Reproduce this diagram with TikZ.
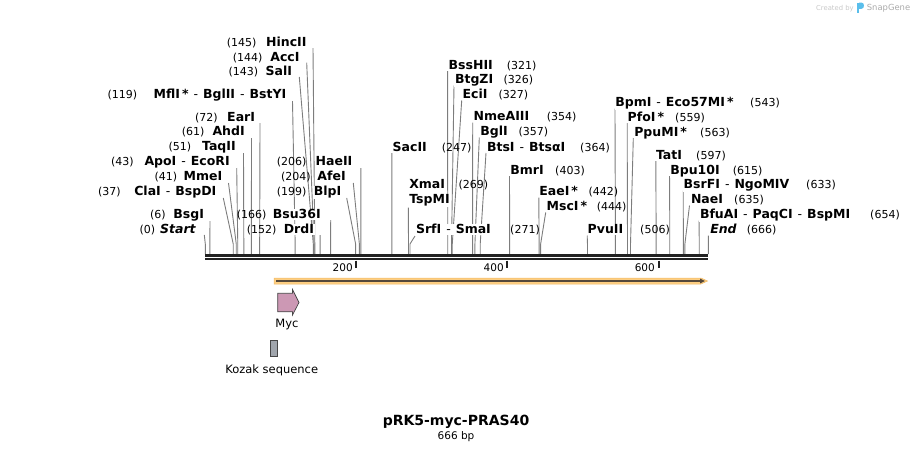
\documentclass[tikz,border=0pt]{standalone}
\usepackage{fontspec}
\setmainfont{DejaVu Sans}
\usetikzlibrary{arrows.meta}
\pgfdeclarelayer{bg}
\pgfsetlayers{bg,main}
\definecolor{cutgray}{RGB}{125,125,125}
\definecolor{seqblack}{RGB}{34,34,34}
\definecolor{orfband}{RGB}{253,206,130}
\definecolor{orfedge}{RGB}{240,185,100}
\definecolor{orfline}{RGB}{85,72,58}
\definecolor{mycpink}{RGB}{204,152,180}
\definecolor{kozakgray}{RGB}{160,165,172}
\definecolor{featborder}{RGB}{70,70,70}
\definecolor{sgblue}{RGB}{90,190,235}
\definecolor{sggray}{RGB}{170,170,170}
\definecolor{sglight}{RGB}{200,200,200}
\newcommand\dsh{\hspace{5pt}{\mdseries -}\hspace{5pt}}
% left-type: (num) Name, line at right end
\newcommand\Lsite[9]{%
  \pgfmathsetmacro\bxx{205.3+#7*0.75526}%
  \begin{pgfonlayer}{bg}
    \coordinate (t#1) at (#8,#9);
    \coordinate (b#1) at (\bxx,254);
    \draw[cut] (t#1) -- (\bxx,244) -- (b#1);
  \end{pgfonlayer}
  \node[numlbl, anchor=base west] (k#1) at (#3,#2+4.3) {(#5)};
  \node[namelbl, anchor=base east] (n#1) at (#4,#2+4.3) {#6};
}
% right-type: Name (num), line at left start
\newcommand\Rsite[9]{%
  \pgfmathsetmacro\bxx{205.3+#7*0.75526}%
  \begin{pgfonlayer}{bg}
    \coordinate (t#1) at (#8,#9);
    \coordinate (b#1) at (\bxx,254);
    \draw[cut] (t#1) -- (\bxx,244) -- (b#1);
  \end{pgfonlayer}
  \node[namelbl, anchor=base west] (n#1) at (#3,#2+4.3) {#6};
  \node[numlbl, anchor=base east] (k#1) at (#4,#2+4.3) {(#5)};
}
\tikzset{
  namelbl/.style={font=\fontsize{12.5}{14}\selectfont\bfseries, inner sep=0.8pt, fill=white},
  numlbl/.style={font=\fontsize{11}{13}\selectfont, inner sep=0pt},
  cut/.style={draw=cutgray, line width=0.9pt},
  rulerlbl/.style={font=\fontsize{10.5}{12}\selectfont, inner sep=0pt, anchor=base east},
  featborder/.style={draw=featborder, line width=0.7pt},
}
\begin{document}
\begin{tikzpicture}[x=1pt,y=-1pt]
\useasboundingbox (0,0) rectangle (914,451);

% left cluster
\Lsite{HincII}{42}{226.7}{307.5}{145}{HincII}{145}{313}{48}
\Lsite{AccI}{56.7}{232.7}{300.5}{144}{AccI}{144}{306.7}{62.7}
\Lsite{SalI}{71}{228.3}{293}{143}{SalI}{143}{299.3}{77}
\Lsite{MflI}{94.5}{107.3}{287.3}{119}{MflI\,*\dsh BglII\dsh BstYI}{119}{292.5}{101}
\Lsite{EarI}{117}{195}{256}{72}{EarI}{72}{260}{123}
\Lsite{AhdI}{131.5}{181.7}{245.7}{61}{AhdI}{61}{251.5}{138}
\Lsite{TaqII}{146}{168.3}{236.7}{51}{TaqII}{51}{243.5}{153}
\Lsite{ApoI}{161.5}{111}{230.7}{43}{ApoI\dsh EcoRI}{43}{236.7}{168}
\Lsite{MmeI}{176.5}{154.3}{223.3}{41}{MmeI}{41}{228.5}{183}
\Lsite{ClaI}{191.5}{98}{217.3}{37}{ClaI\dsh BspDI}{37}{223.3}{198}
\Lsite{BsgI}{214.5}{150}{205}{6}{BsgI}{6}{210}{221}
\Lsite{Start}{229.5}{139.3}{196.7}{0}{\itshape Start}{0}{204.3}{235}
\Lsite{Bsuxxxvi}{214.5}{236.7}{321.7}{166}{Bsu36I}{166}{330.7}{220}
\Lsite{DrdI}{229.5}{246.7}{315}{152}{DrdI}{152}{320.1}{235}
\Lsite{HaeII}{161.5}{276.7}{353.3}{206}{HaeII}{206}{360.9}{168}
\Lsite{AfeI}{176.5}{281}{346.7}{204}{AfeI}{204}{353.3}{183}
\Lsite{BlpI}{191.5}{276.7}{342.3}{199}{BlpI}{199}{346.7}{198}

% middle and right clusters
\Rsite{SacII}{147}{391.7}{471.7}{247}{SacII}{247}{391.9}{153}
\Rsite{BssHII}{65}{447.7}{536.7}{321}{BssHII}{321}{447.6}{71}
\Rsite{BtgZI}{79.5}{454}{533.3}{326}{BtgZI}{326}{454}{85.5}
\Rsite{EciI}{94.5}{461.7}{528.3}{327}{EciI}{327}{461.7}{100.5}
\Rsite{NmeAIII}{116.5}{472.7}{576.7}{354}{NmeAIII}{354}{472.7}{122.5}
\Rsite{BglI}{131.5}{479.3}{548.3}{357}{BglI}{357}{479.3}{137.5}
\Rsite{BtsI}{147}{486}{610}{364}{BtsI\dsh BtsαI}{364}{486}{153}
\Rsite{XmaI}{184.5}{408.3}{488.3}{269}{XmaI}{269}{408.4}{207.5}
\node[namelbl, anchor=base west] (nTspMI) at (408.3,203.8) {TspMI};
\Rsite{SrfI}{229.5}{415}{540}{271}{SrfI\dsh SmaI}{271}{415}{236}
\Rsite{BmrI}{170}{509.3}{585}{403}{BmrI}{403}{509.5}{176}
\Rsite{EaeI}{191.5}{538.3}{618.3}{442}{EaeI\,*}{442}{538.8}{197.5}
\Rsite{MscI}{206.5}{545.7}{626.7}{444}{MscI\,*}{444}{545.7}{212.5}
\Rsite{PvuII}{229.5}{586.7}{670}{506}{PvuII}{506}{587.2}{235.5}
\Rsite{BpmI}{102.5}{614.3}{780}{543}{BpmI\dsh Eco57MI\,*}{543}{615}{108.5}
\Rsite{PfoI}{117}{626.7}{705}{559}{PfoI\,*}{559}{627.2}{123}
\Rsite{PpuMI}{132}{633.3}{730}{563}{PpuMI\,*}{563}{633.3}{138}
\Rsite{TatI}{155}{655}{726}{597}{TatI}{597}{655.8}{161}
\Rsite{Bpux}{170}{669.3}{762.7}{615}{Bpu10I}{615}{669.6}{176}
\Rsite{BsrFI}{184.5}{682.7}{836}{633}{BsrFI\dsh NgoMIV}{633}{683.2}{190.5}
\Rsite{NaeI}{199.5}{690}{764}{635}{NaeI}{635}{689.5}{205.5}
\Rsite{BfuAI}{214.5}{699}{900}{654}{BfuAI\dsh PaqCI\dsh BspMI}{654}{699.1}{220.5}
\Rsite{End}{229.5}{709.3}{776.7}{666}{\itshape End}{666}{708.3}{235.5}

% sequence line
\coordinate (seqL) at (205.3,255.5);
\coordinate (seqR) at (708.3,255.5);
\coordinate (seqL2) at (205.3,259.2);
\coordinate (seqR2) at (708.3,259.2);
\draw[seqblack, line width=2.5pt] (seqL) -- (seqR);
\draw[seqblack, line width=1.8pt] (seqL2) -- (seqR2);

% ruler
\foreach \v/\xx in {200/356.4,400/507.4,600/658.5}{
  \coordinate (rt\v) at (\xx,260.5);
  \coordinate (rb\v) at (\xx,267.5);
  \draw[seqblack, line width=2pt] (rt\v) -- (rb\v);
  \node[rulerlbl] (rl\v) at (\xx-3.5,271.5) {\v};
}

% ORF arrow
\fill[orfband, draw=orfedge, line width=0.5pt] (274,278) -- (701,278) -- (707.5,281) -- (701,284) -- (274,284) -- cycle;
\coordinate (orfA) at (276,281);
\coordinate (orfB) at (705,281);
\draw[orfline, line width=1.4pt, -{Triangle[length=5pt,width=4.5pt]}] (orfA) -- (orfB);

% Myc feature
\draw[featborder, fill=mycpink] (277.7,293.3) -- (292.5,293.3) -- (292.5,289.5) -- (299,302.5) -- (292.5,315) -- (292.5,311.8) -- (277.7,311.8) -- cycle;
\node[font=\fontsize{11.5}{13}\selectfont, inner sep=0pt, anchor=base] (myclbl) at (287,327) {Myc};

% Kozak feature
\draw[featborder, fill=kozakgray] (270.3,340) rectangle (277.7,356.7);
\node[font=\fontsize{11.5}{13}\selectfont, inner sep=0pt, anchor=base] (kozlbl) at (271.7,373.5) {Kozak sequence};

% title
\node[font=\fontsize{14}{16}\selectfont\bfseries, inner sep=0pt, anchor=base] (title) at (456,425) {pRK5-myc-PRAS40};
\node[font=\fontsize{10.5}{12}\selectfont, inner sep=0pt, anchor=base] (bplbl) at (456,439) {666 bp};

% watermark
\node[font=\fontsize{6.8}{8}\selectfont, text=sglight, inner sep=0pt, anchor=base west] (created) at (816,10) {Created by};
\fill[sgblue] (856.5,2.5) rectangle (859.2,13);
\fill[sgblue] (859.2,2.5) -- (861.5,2.5) .. controls (864.8,2.5) and (864.8,8.8) .. (861.5,8.8) -- (859.2,8.8) -- cycle;
\node[font=\fontsize{8.4}{10}\selectfont, text=sggray, inner sep=0pt, anchor=base west] (sg) at (866.7,10.5) {SnapGene};
\end{tikzpicture}
\end{document}
